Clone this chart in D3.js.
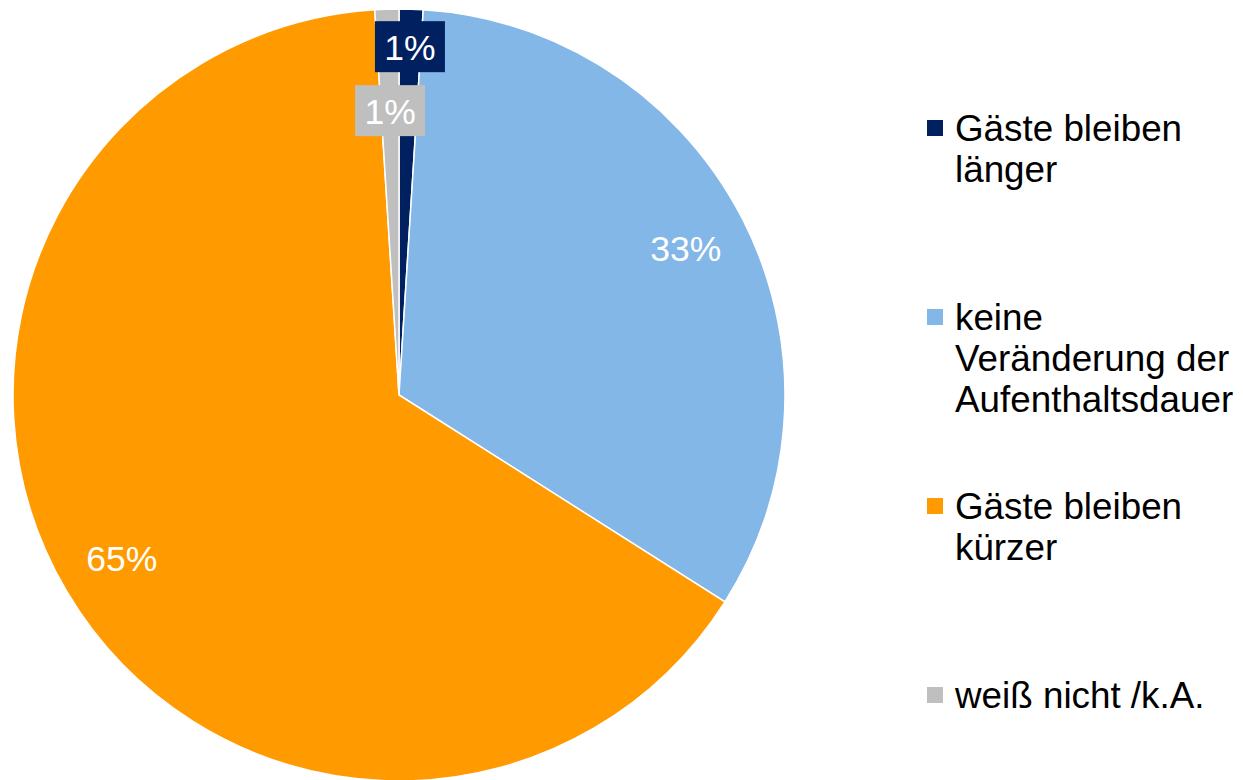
<!DOCTYPE html>
<html>
<head>
<meta charset="utf-8">
<style>
    body { margin: 0; background: white; }
    svg { display: block; font-family: "Liberation Sans", Arial, sans-serif; }
</style>
</head>
<body>
<svg width="1243" height="780"></svg>
<script src="https://cdn.jsdelivr.net/npm/d3@7"></script>
<script>
    // values (percent)
    var categories = ["Gäste bleiben länger", "keine Veränderung der Aufenthaltsdauer", "Gäste bleiben kürzer", "weiß nicht /k.A."];
    var values = [1, 33, 65, 1];
    var labels = ["1%", "33%", "65%", "1%"];
    // legend lines as they wrap in the original
    var legendLines = [["Gäste bleiben", "länger"], ["keine", "Veränderung der", "Aufenthaltsdauer"], ["Gäste bleiben", "kürzer"], ["weiß nicht /k.A."]];
    var colors = ["#002060", "#83b7e8", "#ff9a00", "#bfbfbf"];

    var svg = d3.select("svg");
    var cx = 399, cy = 395, R = 386;

    var pie = d3.pie().sort(null).value(function(d) { return d; });
    var arc = d3.arc().innerRadius(0).outerRadius(R);
    var arcs = pie(values);

    var g = svg.append("g").attr("transform", "translate(" + cx + "," + cy + ")");

    g.selectAll("path")
        .data(arcs)
        .enter().append("path")
        .attr("d", arc)
        .attr("fill", function(d, i) { return colors[i]; })
        .attr("stroke", "white")
        .attr("stroke-width", 1.5);

    // label radius: big slices on the ring, the two thin ones pushed in / out with a box behind
    function labelPos(d, i) {
        var r = 322;
        if (d.value < 3) r = (i == 0) ? 348 : 284;
        var a = (d.startAngle + d.endAngle) / 2;
        return [Math.sin(a) * r, -Math.cos(a) * r];
    }

    var lab = g.selectAll(".lab")
        .data(arcs)
        .enter().append("g")
        .attr("class", "lab")
        .attr("transform", function(d, i) { return "translate(" + labelPos(d, i) + ")"; });

    lab.filter(function(d) { return d.value < 3; })
        .append("rect")
        .attr("x", -35).attr("y", -26)
        .attr("width", 70).attr("height", 51)
        .attr("fill", function(d, i) { return colors[d.index]; });

    lab.append("text")
        .attr("text-anchor", "middle")
        .attr("dy", "0.35em")
        .attr("font-size", "35.5px")
        .attr("fill", "white")
        .text(function(d) { return labels[d.index]; });

    // legend
    var legend = svg.append("g").attr("class", "legend");
    var item = legend.selectAll("g")
        .data(categories)
        .enter().append("g")
        .attr("transform", function(d, i) { return "translate(927," + (120 + i * 189) + ")"; });

    item.append("rect")
        .attr("width", 16).attr("height", 16)
        .attr("fill", function(d, i) { return colors[i]; });

    item.append("text")
        .attr("x", 28)
        .attr("y", 21)
        .attr("font-size", "36.8px")
        .attr("fill", "black")
        .selectAll("tspan")
        .data(function(d, i) { return legendLines[i]; })
        .enter().append("tspan")
        .attr("x", 28)
        .attr("dy", function(d, j) { return j == 0 ? 0 : 41; })
        .text(function(d) { return d; });
</script>
</body>
</html>
